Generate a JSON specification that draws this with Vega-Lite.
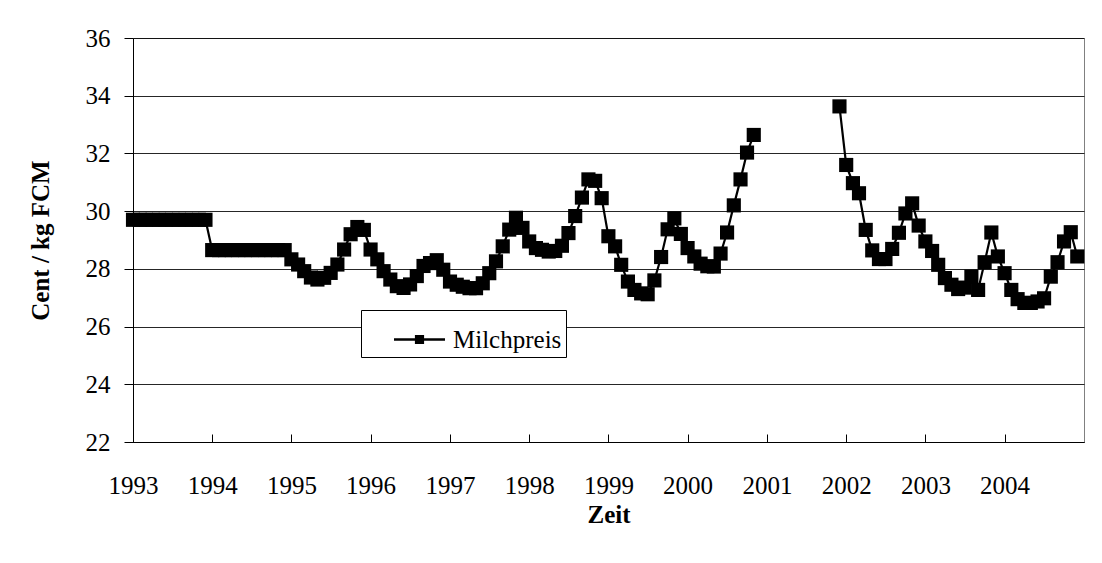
{
  "$schema": "https://vega.github.io/schema/vega-lite/v6.json",
  "width": 951,
  "height": 404,
  "autosize": {"type": "none"},
  "padding": {"left": 133, "top": 38, "right": 18, "bottom": 121},
  "background": "white",
  "config": {
    "font": "'Liberation Serif', 'DejaVu Serif', serif",
    "view": {"stroke": "#808080", "strokeWidth": 1}
  },
  "data": {
    "values": [
      {"monat": "1993-01", "preis": 29.7, "abschnitt": 1},
      {"monat": "1993-02", "preis": 29.7, "abschnitt": 1},
      {"monat": "1993-03", "preis": 29.7, "abschnitt": 1},
      {"monat": "1993-04", "preis": 29.7, "abschnitt": 1},
      {"monat": "1993-05", "preis": 29.7, "abschnitt": 1},
      {"monat": "1993-06", "preis": 29.7, "abschnitt": 1},
      {"monat": "1993-07", "preis": 29.7, "abschnitt": 1},
      {"monat": "1993-08", "preis": 29.7, "abschnitt": 1},
      {"monat": "1993-09", "preis": 29.7, "abschnitt": 1},
      {"monat": "1993-10", "preis": 29.7, "abschnitt": 1},
      {"monat": "1993-11", "preis": 29.7, "abschnitt": 1},
      {"monat": "1993-12", "preis": 29.7, "abschnitt": 1},
      {"monat": "1994-01", "preis": 28.65, "abschnitt": 1},
      {"monat": "1994-02", "preis": 28.65, "abschnitt": 1},
      {"monat": "1994-03", "preis": 28.65, "abschnitt": 1},
      {"monat": "1994-04", "preis": 28.65, "abschnitt": 1},
      {"monat": "1994-05", "preis": 28.65, "abschnitt": 1},
      {"monat": "1994-06", "preis": 28.65, "abschnitt": 1},
      {"monat": "1994-07", "preis": 28.65, "abschnitt": 1},
      {"monat": "1994-08", "preis": 28.65, "abschnitt": 1},
      {"monat": "1994-09", "preis": 28.65, "abschnitt": 1},
      {"monat": "1994-10", "preis": 28.65, "abschnitt": 1},
      {"monat": "1994-11", "preis": 28.65, "abschnitt": 1},
      {"monat": "1994-12", "preis": 28.65, "abschnitt": 1},
      {"monat": "1995-01", "preis": 28.33, "abschnitt": 1},
      {"monat": "1995-02", "preis": 28.15, "abschnitt": 1},
      {"monat": "1995-03", "preis": 27.92, "abschnitt": 1},
      {"monat": "1995-04", "preis": 27.7, "abschnitt": 1},
      {"monat": "1995-05", "preis": 27.63, "abschnitt": 1},
      {"monat": "1995-06", "preis": 27.69, "abschnitt": 1},
      {"monat": "1995-07", "preis": 27.86, "abschnitt": 1},
      {"monat": "1995-08", "preis": 28.15, "abschnitt": 1},
      {"monat": "1995-09", "preis": 28.67, "abschnitt": 1},
      {"monat": "1995-10", "preis": 29.2, "abschnitt": 1},
      {"monat": "1995-11", "preis": 29.45, "abschnitt": 1},
      {"monat": "1995-12", "preis": 29.35, "abschnitt": 1},
      {"monat": "1996-01", "preis": 28.67, "abschnitt": 1},
      {"monat": "1996-02", "preis": 28.33, "abschnitt": 1},
      {"monat": "1996-03", "preis": 27.92, "abschnitt": 1},
      {"monat": "1996-04", "preis": 27.63, "abschnitt": 1},
      {"monat": "1996-05", "preis": 27.4, "abschnitt": 1},
      {"monat": "1996-06", "preis": 27.34, "abschnitt": 1},
      {"monat": "1996-07", "preis": 27.46, "abschnitt": 1},
      {"monat": "1996-08", "preis": 27.75, "abschnitt": 1},
      {"monat": "1996-09", "preis": 28.1, "abschnitt": 1},
      {"monat": "1996-10", "preis": 28.2, "abschnitt": 1},
      {"monat": "1996-11", "preis": 28.3, "abschnitt": 1},
      {"monat": "1996-12", "preis": 27.97, "abschnitt": 1},
      {"monat": "1997-01", "preis": 27.56, "abschnitt": 1},
      {"monat": "1997-02", "preis": 27.45, "abschnitt": 1},
      {"monat": "1997-03", "preis": 27.38, "abschnitt": 1},
      {"monat": "1997-04", "preis": 27.33, "abschnitt": 1},
      {"monat": "1997-05", "preis": 27.33, "abschnitt": 1},
      {"monat": "1997-06", "preis": 27.5, "abschnitt": 1},
      {"monat": "1997-07", "preis": 27.85, "abschnitt": 1},
      {"monat": "1997-08", "preis": 28.26, "abschnitt": 1},
      {"monat": "1997-09", "preis": 28.78, "abschnitt": 1},
      {"monat": "1997-10", "preis": 29.36, "abschnitt": 1},
      {"monat": "1997-11", "preis": 29.77, "abschnitt": 1},
      {"monat": "1997-12", "preis": 29.42, "abschnitt": 1},
      {"monat": "1998-01", "preis": 28.95, "abschnitt": 1},
      {"monat": "1998-02", "preis": 28.72, "abschnitt": 1},
      {"monat": "1998-03", "preis": 28.66, "abschnitt": 1},
      {"monat": "1998-04", "preis": 28.6, "abschnitt": 1},
      {"monat": "1998-05", "preis": 28.62, "abschnitt": 1},
      {"monat": "1998-06", "preis": 28.8, "abschnitt": 1},
      {"monat": "1998-07", "preis": 29.24, "abschnitt": 1},
      {"monat": "1998-08", "preis": 29.83, "abschnitt": 1},
      {"monat": "1998-09", "preis": 30.47, "abschnitt": 1},
      {"monat": "1998-10", "preis": 31.1, "abschnitt": 1},
      {"monat": "1998-11", "preis": 31.05, "abschnitt": 1},
      {"monat": "1998-12", "preis": 30.45, "abschnitt": 1},
      {"monat": "1999-01", "preis": 29.13, "abschnitt": 1},
      {"monat": "1999-02", "preis": 28.78, "abschnitt": 1},
      {"monat": "1999-03", "preis": 28.14, "abschnitt": 1},
      {"monat": "1999-04", "preis": 27.56, "abschnitt": 1},
      {"monat": "1999-05", "preis": 27.27, "abschnitt": 1},
      {"monat": "1999-06", "preis": 27.15, "abschnitt": 1},
      {"monat": "1999-07", "preis": 27.12, "abschnitt": 1},
      {"monat": "1999-08", "preis": 27.6, "abschnitt": 1},
      {"monat": "1999-09", "preis": 28.41, "abschnitt": 1},
      {"monat": "1999-10", "preis": 29.37, "abschnitt": 1},
      {"monat": "1999-11", "preis": 29.75, "abschnitt": 1},
      {"monat": "1999-12", "preis": 29.21, "abschnitt": 1},
      {"monat": "2000-01", "preis": 28.72, "abschnitt": 1},
      {"monat": "2000-02", "preis": 28.43, "abschnitt": 1},
      {"monat": "2000-03", "preis": 28.18, "abschnitt": 1},
      {"monat": "2000-04", "preis": 28.09, "abschnitt": 1},
      {"monat": "2000-05", "preis": 28.08, "abschnitt": 1},
      {"monat": "2000-06", "preis": 28.53, "abschnitt": 1},
      {"monat": "2000-07", "preis": 29.26, "abschnitt": 1},
      {"monat": "2000-08", "preis": 30.2, "abschnitt": 1},
      {"monat": "2000-09", "preis": 31.1, "abschnitt": 1},
      {"monat": "2000-10", "preis": 32.03, "abschnitt": 1},
      {"monat": "2000-11", "preis": 32.64, "abschnitt": 1},
      {"monat": "2001-12", "preis": 33.63, "abschnitt": 2},
      {"monat": "2002-01", "preis": 31.6, "abschnitt": 2},
      {"monat": "2002-02", "preis": 30.97, "abschnitt": 2},
      {"monat": "2002-03", "preis": 30.62, "abschnitt": 2},
      {"monat": "2002-04", "preis": 29.35, "abschnitt": 2},
      {"monat": "2002-05", "preis": 28.64, "abschnitt": 2},
      {"monat": "2002-06", "preis": 28.34, "abschnitt": 2},
      {"monat": "2002-07", "preis": 28.34, "abschnitt": 2},
      {"monat": "2002-08", "preis": 28.69, "abschnitt": 2},
      {"monat": "2002-09", "preis": 29.25, "abschnitt": 2},
      {"monat": "2002-10", "preis": 29.92, "abschnitt": 2},
      {"monat": "2002-11", "preis": 30.27, "abschnitt": 2},
      {"monat": "2002-12", "preis": 29.5, "abschnitt": 2},
      {"monat": "2003-01", "preis": 28.95, "abschnitt": 2},
      {"monat": "2003-02", "preis": 28.62, "abschnitt": 2},
      {"monat": "2003-03", "preis": 28.14, "abschnitt": 2},
      {"monat": "2003-04", "preis": 27.68, "abschnitt": 2},
      {"monat": "2003-05", "preis": 27.45, "abschnitt": 2},
      {"monat": "2003-06", "preis": 27.3, "abschnitt": 2},
      {"monat": "2003-07", "preis": 27.35, "abschnitt": 2},
      {"monat": "2003-08", "preis": 27.73, "abschnitt": 2},
      {"monat": "2003-09", "preis": 27.27, "abschnitt": 2},
      {"monat": "2003-10", "preis": 28.23, "abschnitt": 2},
      {"monat": "2003-11", "preis": 29.26, "abschnitt": 2},
      {"monat": "2003-12", "preis": 28.43, "abschnitt": 2},
      {"monat": "2004-01", "preis": 27.85, "abschnitt": 2},
      {"monat": "2004-02", "preis": 27.27, "abschnitt": 2},
      {"monat": "2004-03", "preis": 26.95, "abschnitt": 2},
      {"monat": "2004-04", "preis": 26.82, "abschnitt": 2},
      {"monat": "2004-05", "preis": 26.82, "abschnitt": 2},
      {"monat": "2004-06", "preis": 26.87, "abschnitt": 2},
      {"monat": "2004-07", "preis": 26.98, "abschnitt": 2},
      {"monat": "2004-08", "preis": 27.73, "abschnitt": 2},
      {"monat": "2004-09", "preis": 28.23, "abschnitt": 2},
      {"monat": "2004-10", "preis": 28.95, "abschnitt": 2},
      {"monat": "2004-11", "preis": 29.27, "abschnitt": 2},
      {"monat": "2004-12", "preis": 28.43, "abschnitt": 2}
    ]
  },
  "encoding": {
    "x": {
      "field": "monat",
      "type": "temporal",
      "scale": {
        "type": "utc",
        "domain": [
          {"year": 1993, "month": 1, "date": 1, "utc": true},
          {"year": 2005, "month": 1, "date": 1, "utc": true}
        ]
      },
      "axis": {
        "title": "Zeit",
        "values": [
          {"year": 1993, "month": 1, "date": 1, "utc": true},
          {"year": 1994, "month": 1, "date": 1, "utc": true},
          {"year": 1995, "month": 1, "date": 1, "utc": true},
          {"year": 1996, "month": 1, "date": 1, "utc": true},
          {"year": 1997, "month": 1, "date": 1, "utc": true},
          {"year": 1998, "month": 1, "date": 1, "utc": true},
          {"year": 1999, "month": 1, "date": 1, "utc": true},
          {"year": 2000, "month": 1, "date": 1, "utc": true},
          {"year": 2001, "month": 1, "date": 1, "utc": true},
          {"year": 2002, "month": 1, "date": 1, "utc": true},
          {"year": 2003, "month": 1, "date": 1, "utc": true},
          {"year": 2004, "month": 1, "date": 1, "utc": true}
        ],
        "format": "%Y",
        "grid": false,
        "domainColor": "black",
        "domainWidth": 1,
        "tickColor": "black",
        "tickSize": -8,
        "tickWidth": 1,
        "labelFont": "'Liberation Serif', 'DejaVu Serif', serif",
        "labelFontSize": 25,
        "labelColor": "black",
        "labelPadding": 39,
        "labelFlush": false,
        "labelOverlap": false,
        "titleFont": "'Liberation Serif', 'DejaVu Serif', serif",
        "titleFontSize": 25,
        "titleFontWeight": "bold",
        "titleColor": "black",
        "titlePadding": 4
      }
    },
    "y": {
      "field": "preis",
      "type": "quantitative",
      "scale": {"domain": [22, 36], "nice": false, "zero": false},
      "axis": {
        "title": "Cent / kg FCM",
        "values": [22, 24, 26, 28, 30, 32, 34, 36],
        "grid": true,
        "gridColor": "black",
        "gridWidth": 1,
        "gridOpacity": 0.85,
        "domainColor": "black",
        "domainWidth": 1,
        "tickColor": "black",
        "tickSize": 9,
        "tickWidth": 1,
        "labelFont": "'Liberation Serif', 'DejaVu Serif', serif",
        "labelFontSize": 25,
        "labelColor": "black",
        "labelPadding": 14,
        "titleFont": "'Liberation Serif', 'DejaVu Serif', serif",
        "titleFontSize": 25,
        "titleFontWeight": "bold",
        "titleColor": "black",
        "titlePadding": 32
      }
    }
  },
  "layer": [
    {
      "mark": {"type": "line", "color": "black", "strokeWidth": 2.2},
      "encoding": {"detail": {"field": "abschnitt"}}
    },
    {
      "mark": {"type": "point", "shape": "square", "filled": true, "size": 200, "opacity": 1},
      "encoding": {
        "color": {
          "datum": "Milchpreis",
          "scale": {"range": ["black"]},
          "legend": {
            "orient": "none",
            "legendX": 228,
            "legendY": 272,
            "title": null,
            "symbolType": "M-1,-0.045H1V0.045H-1ZM-0.18,-0.18H0.18V0.18H-0.18Z",
            "symbolSize": 2601,
            "symbolStrokeWidth": 0,
            "symbolOffset": 29,
            "labelOffset": 8,
            "labelFont": "'Liberation Serif', 'DejaVu Serif', serif",
            "labelFontSize": 25,
            "labelColor": "black",
            "strokeColor": "black",
            "fillColor": "white",
            "padding": 4,
            "encode": {
              "symbols": {
                "update": {
                  "fill": {"value": "black"},
                  "opacity": {"value": 1}
                }
              }
            }
          }
        }
      }
    }
  ]
}
